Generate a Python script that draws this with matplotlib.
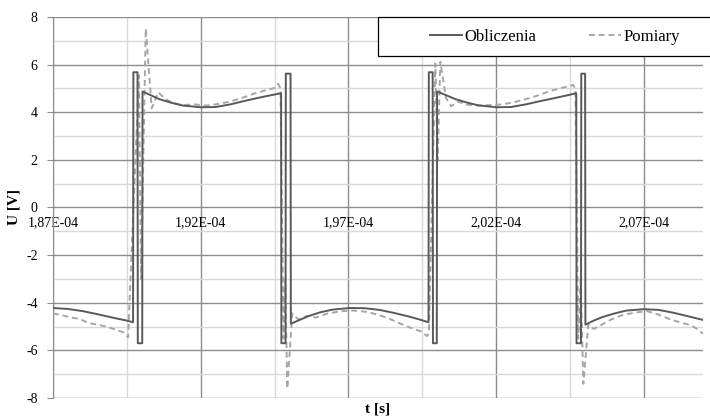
import matplotlib.pyplot as plt
from matplotlib.patches import Rectangle
from matplotlib.ticker import FuncFormatter, FixedLocator, MultipleLocator
import numpy as np

# czas w mikrosekundach, napiecie w V
obl_t = [187.00, 187.50, 188.00, 188.50, 189.00, 189.50, 189.71,
         189.72, 189.86, 189.87, 190.02, 190.03,
         190.30, 190.60, 191.00, 191.40, 192.00, 192.50, 193.00, 193.50, 194.00, 194.40, 194.72,
         194.73, 194.87, 194.88, 195.04, 195.05,
         195.35, 195.65, 196.05, 196.45, 197.05, 197.55, 198.05, 198.55, 199.05, 199.40, 199.71,
         199.72, 199.85, 199.86, 199.99, 200.00,
         200.30, 200.60, 201.00, 201.40, 202.00, 202.50, 203.00, 203.50, 204.00, 204.40, 204.71,
         204.72, 204.87, 204.88, 205.01, 205.02,
         205.30, 205.60, 206.00, 206.40, 207.00, 207.50, 208.00, 208.50, 209.00]
obl_u = [-4.22, -4.26, -4.35, -4.48, -4.62, -4.75, -4.82,
         5.68, 5.68, -5.70, -5.70, 4.87,
         4.72, 4.55, 4.40, 4.28, 4.21, 4.22, 4.33, 4.48, 4.62, 4.72, 4.80,
         -5.70, -5.70, 5.62, 5.62, -4.88,
         -4.72, -4.56, -4.40, -4.29, -4.22, -4.23, -4.30, -4.43, -4.58, -4.70, -4.82,
         5.68, 5.68, -5.70, -5.70, 4.87,
         4.72, 4.56, 4.41, 4.29, 4.21, 4.22, 4.33, 4.47, 4.60, 4.71, 4.80,
         -5.70, -5.70, 5.62, 5.62, -4.92,
         -4.75, -4.60, -4.45, -4.33, -4.27, -4.30, -4.42, -4.57, -4.72]

pom_t = [187.00, 187.30, 187.60, 187.90, 188.20, 188.50, 188.80, 189.10, 189.40, 189.54,
         189.91, 189.98, 190.14, 190.34, 190.56, 190.80,
         191.10, 191.40, 191.80, 192.20, 192.60, 193.00, 193.40, 193.80, 194.20, 194.50, 194.62, 194.70,
         194.80, 194.86, 194.93, 195.10, 195.30, 195.60,
         195.90, 196.30, 196.80, 197.20, 197.60, 198.00, 198.40, 198.80, 199.20, 199.50, 199.65, 199.72,
         199.94, 200.02, 200.11, 200.30, 200.48, 200.70,
         201.00, 201.40, 201.80, 202.20, 202.60, 203.00, 203.40, 203.80, 204.20, 204.50, 204.60, 204.68,
         204.78, 204.86, 204.95, 205.12, 205.30, 205.60,
         205.90, 206.30, 206.80, 207.10, 207.50, 207.90, 208.30, 208.60, 208.80, 209.00]
pom_u = [-4.45, -4.52, -4.62, -4.68, -4.85, -4.92, -5.00, -5.12, -5.25, -5.45,
         5.55, -3.00, 7.52, 4.17, 4.84, 4.55,
         4.38, 4.30, 4.33, 4.28, 4.35, 4.45, 4.60, 4.78, 4.92, 5.02, 5.20, 5.00,
         -5.50, -3.00, -7.60, -4.45, -4.70, -4.55,
         -4.62, -4.45, -4.35, -4.33, -4.38, -4.50, -4.68, -4.90, -5.10, -5.22, -5.40, -5.30,
         6.05, 2.00, 6.12, 4.60, 4.25, 4.45,
         4.32, 4.28, 4.30, 4.33, 4.42, 4.55, 4.70, 4.88, 5.02, 5.10, 5.15, 5.00,
         -5.50, -3.00, -7.40, -4.90, -5.10, -4.90,
         -4.70, -4.50, -4.40, -4.35, -4.50, -4.70, -4.85, -4.95, -5.10, -5.30]

# podzialka osi czasu (us)
t_major = [187.0, 192.0, 197.0, 202.0, 207.0]
t_minor = [189.5, 194.5, 199.5, 204.5]

plt.rcParams['font.family'] = 'Liberation Serif'
plt.rcParams['axes.unicode_minus'] = False

fig = plt.figure(figsize=(7.10, 4.19), dpi=100)
ax = fig.add_axes([53/710, 1 - 398/419, (703 - 53)/710, (398 - 17)/419])

t_obl = np.array(obl_t) * 1e-6
t_pom = np.array(pom_t) * 1e-6
ax.plot(t_obl, obl_u, color='#595959', lw=1.4, label='Obliczenia', zorder=4)
ax.plot(t_pom, pom_u, color='#a6a6a6', lw=1.4, ls=(0, (3, 2)), label='Pomiary', zorder=3)

ax.set_xlim(187e-6, 209e-6)
ax.set_ylim(-8, 8)

ax.xaxis.set_major_locator(FixedLocator(np.array(t_major) * 1e-6))
ax.xaxis.set_minor_locator(FixedLocator(np.array(t_minor) * 1e-6))
ax.yaxis.set_major_locator(MultipleLocator(2))
ax.yaxis.set_minor_locator(MultipleLocator(1))
ax.xaxis.set_major_formatter(FuncFormatter(lambda v, p: f"{v:.2E}".replace('.', ',')))

ax.grid(which='major', color='#8c8c8c', lw=1.0)
ax.grid(which='minor', color='#d9d9d9', lw=1.0)
ax.set_axisbelow(True)

for s in ['top', 'right']:
    ax.spines[s].set_visible(False)
ax.spines['bottom'].set_position(('data', 0))
ax.spines['bottom'].set_visible(False)
ax.spines['left'].set_color('#8c8c8c')

ax.tick_params(axis='x', which='both', length=0, pad=6, labelsize=10)
ax.tick_params(axis='y', which='major', length=4, color='#8c8c8c', pad=7, labelsize=10)
ax.tick_params(axis='y', which='minor', length=0)

fig.text(378/710, 1 - 409/419, 't [s]', ha='center', va='center', fontsize=11, fontweight='bold')
fig.text(14/710, 1 - 207/419, 'U [V]', ha='center', va='center', rotation=90,
         fontsize=11, fontweight='bold')

# ramka legendy
fig.patches.append(Rectangle((378/710, 1 - 56/419), 340/710, 39/419, transform=fig.transFigure,
                             facecolor='white', edgecolor='black', lw=0.9, zorder=5))
leg = fig.legend(loc='center', bbox_to_anchor=(555/710, 1 - 37/419), ncol=2, frameon=False,
                 fontsize=12, handlelength=1.9, handletextpad=0.15, columnspacing=3.2)
leg.set_zorder(6)

fig.savefig('out.png', dpi=100)
